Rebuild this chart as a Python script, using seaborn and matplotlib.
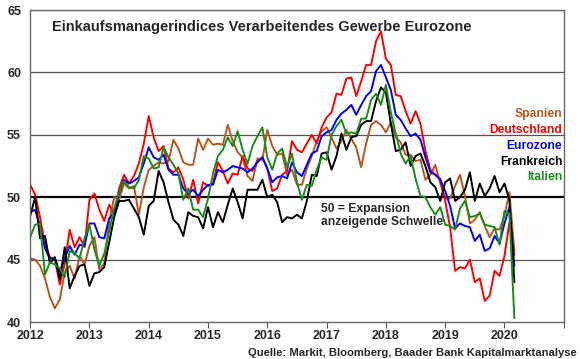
import numpy as np
import pandas as pd
import matplotlib
matplotlib.use("Agg")
import matplotlib.pyplot as plt
import seaborn as sns

# --- data: monthly manufacturing PMI, Jan 2012 - Mar 2020 ---
spanien = [45.1, 45.0, 44.5, 43.5, 42.0, 41.1, 41.8, 44.0, 44.5, 43.5, 45.3, 44.6,
           46.1, 46.8, 44.2, 44.7, 48.1, 50.0, 49.8, 51.1, 50.7, 50.9, 48.6, 50.8,
           52.2, 52.5, 52.8, 52.7, 52.9, 54.6, 53.9, 52.8, 52.6, 52.6, 54.7, 53.8,
           54.7, 54.2, 54.3, 54.2, 55.8, 54.5, 53.6, 53.2, 51.7, 51.3, 53.1, 53.0,
           55.4, 54.1, 53.4, 53.5, 51.8, 52.2, 51.0, 51.0, 52.3, 53.3, 54.5, 55.3,
           55.6, 54.8, 53.9, 54.5, 55.4, 54.7, 54.0, 52.4, 54.3, 55.8, 56.1, 55.8,
           55.2, 56.0, 54.8, 54.4, 53.4, 53.4, 52.9, 53.0, 51.4, 51.8, 52.6, 51.1,
           49.9, 49.9, 50.9, 51.8, 50.1, 47.9, 48.2, 48.8, 47.7, 46.8, 47.5, 47.4,
           48.5, 50.4, 45.7]
deutschland = [51.0, 50.2, 48.4, 46.2, 45.2, 45.0, 43.0, 44.7, 47.4, 46.0, 46.8, 46.0,
               49.8, 50.3, 49.0, 48.1, 49.4, 48.6, 50.7, 51.8, 51.1, 51.7, 52.7, 54.3,
               56.5, 54.8, 53.7, 54.1, 52.3, 52.0, 52.4, 51.4, 49.9, 51.4, 49.5, 51.2,
               50.9, 51.1, 52.8, 52.1, 51.1, 51.9, 51.8, 53.3, 52.3, 52.1, 52.9, 53.2,
               52.3, 50.5, 50.7, 51.8, 52.1, 54.5, 53.8, 53.6, 54.3, 55.0, 54.3, 55.6,
               56.4, 56.8, 58.3, 58.2, 59.5, 59.6, 58.1, 59.3, 60.6, 60.6, 62.5, 63.3,
               61.1, 60.6, 58.2, 58.1, 56.9, 55.9, 56.9, 55.9, 53.7, 52.2, 51.8, 51.5,
               49.7, 47.6, 44.1, 44.4, 44.3, 45.0, 43.2, 43.5, 41.7, 42.1, 44.1, 43.7,
               45.3, 48.0, 45.4]
eurozone = [48.8, 49.0, 47.7, 45.9, 45.1, 45.1, 44.0, 45.1, 46.1, 45.4, 46.2, 46.1,
            47.9, 47.9, 46.8, 46.7, 48.3, 48.8, 50.3, 51.4, 51.1, 51.3, 51.6, 52.7,
            54.0, 53.2, 53.0, 53.4, 52.2, 51.8, 51.8, 50.7, 50.3, 50.6, 50.1, 50.6,
            51.0, 51.0, 52.2, 52.0, 52.2, 52.5, 52.4, 52.3, 52.0, 52.3, 52.8, 53.2,
            52.3, 51.2, 51.6, 51.7, 51.5, 52.8, 52.0, 51.7, 52.6, 53.5, 53.7, 54.9,
            55.2, 55.4, 56.2, 56.7, 57.0, 57.4, 56.6, 57.4, 58.1, 58.5, 60.1, 60.6,
            59.6, 58.6, 56.6, 56.2, 55.5, 54.9, 55.1, 54.6, 53.2, 52.0, 51.8, 51.4,
            50.5, 49.3, 47.5, 47.9, 47.7, 47.6, 46.5, 47.0, 45.7, 45.9, 46.9, 46.3,
            47.9, 49.2, 44.5]
frankreich = [48.5, 50.0, 46.7, 46.9, 44.7, 45.2, 43.4, 46.0, 42.7, 43.7, 44.5, 44.6,
              42.9, 43.9, 44.0, 44.4, 46.4, 48.4, 49.7, 49.7, 49.8, 49.1, 48.4, 47.0,
              49.3, 49.7, 52.1, 51.2, 49.6, 48.2, 47.8, 46.9, 48.8, 48.5, 48.4, 47.5,
              49.2, 47.6, 48.8, 48.0, 49.4, 50.7, 49.6, 48.3, 50.6, 50.6, 50.6, 51.4,
              50.0, 50.2, 49.6, 48.0, 48.4, 48.3, 48.6, 48.3, 49.7, 51.8, 51.7, 53.5,
              53.6, 52.2, 53.3, 55.1, 53.8, 54.8, 54.9, 55.8, 56.1, 56.1, 57.7, 58.8,
              58.4, 55.9, 53.7, 53.8, 54.4, 52.5, 53.3, 53.5, 52.5, 51.2, 50.8, 49.7,
              51.2, 51.5, 49.7, 50.0, 50.6, 52.0, 49.7, 51.1, 50.1, 50.7, 51.7, 50.4,
              51.1, 49.8, 43.2]
italien = [46.8, 47.8, 47.9, 43.8, 44.8, 44.6, 44.3, 43.6, 45.7, 45.5, 45.1, 46.7,
           47.8, 45.8, 44.5, 45.5, 47.3, 49.1, 50.4, 51.3, 50.8, 50.7, 51.4, 53.3,
           53.1, 52.3, 52.4, 54.0, 53.2, 52.6, 51.9, 49.8, 50.7, 49.0, 49.0, 48.4,
           49.9, 51.9, 53.3, 53.8, 54.8, 54.1, 55.3, 53.8, 52.7, 54.1, 54.9, 55.6,
           53.2, 52.2, 53.5, 53.9, 52.4, 53.5, 51.2, 49.8, 51.0, 50.9, 52.2, 53.2,
           53.0, 55.0, 55.7, 56.2, 55.1, 55.2, 55.1, 56.3, 56.3, 57.8, 58.3, 57.4,
           59.0, 56.8, 55.1, 53.5, 52.7, 53.3, 51.5, 50.1, 50.0, 49.2, 48.6, 49.2,
           47.8, 47.7, 47.4, 49.1, 49.7, 48.4, 48.5, 48.7, 47.8, 47.7, 47.6, 46.2,
           48.9, 48.7, 40.3]

names = ["Spanien", "Deutschland", "Eurozone", "Frankreich", "Italien"]
colors = ["#B5561F", "#FF0000", "#0000FF", "#000000", "#1A8C1A"]
year_ticks = list(range(2012, 2022))
year_labels = [str(y) for y in range(2012, 2021)] + [""]

# monthly time axis as fractional years, Jan 2012 = 2012.0
n = len(eurozone)
t = 2012 + np.arange(n) / 12.0
frames = []
for name, vals in zip(names, [spanien, deutschland, eurozone, frankreich, italien]):
    frames.append(pd.DataFrame({"t": t, "pmi": vals, "land": name}))
df = pd.concat(frames, ignore_index=True)

# --- plot ---
sns.set_style("white")
plt.rcParams["font.family"] = ["Liberation Sans", "DejaVu Sans"]

fig = plt.figure(figsize=(5.8, 3.59), dpi=100)
ax = fig.add_axes([0.052, 0.103, 0.92, 0.869])

for y in [45, 55, 60, 65]:
    ax.axhline(y, color="#555555", lw=0.9, zorder=0)
ax.axhline(50, color="black", lw=1.6, zorder=0)

sns.lineplot(data=df, x="t", y="pmi", hue="land", hue_order=names,
             palette=dict(zip(names, colors)), lw=1.4, legend=False, ax=ax)

ax.set_xlim(2012, 2021)
ax.set_ylim(40, 65)
ax.set_xticks(year_ticks)
ax.set_xticklabels(year_labels)
ax.set_yticks([40, 45, 50, 55, 60, 65])
ax.set_xlabel("")
ax.set_ylabel("")
ax.tick_params(axis="both", labelsize=9, pad=3)
ax.tick_params(axis="x", bottom=True, length=4, color="#555555", pad=2)
for lab in ax.get_xticklabels() + ax.get_yticklabels():
    lab.set_fontweight("bold")
for s in ax.spines.values():
    s.set_color("#666666")
    s.set_linewidth(1.0)

ax.text(0.04, 0.968, "Einkaufsmanagerindices Verarbeitendes Gewerbe Eurozone",
        transform=ax.transAxes, ha="left", va="top", fontsize=10.5, fontweight="bold")

# series labels on the right edge instead of a legend
label_y = [56.7, 55.4, 54.1, 52.8, 51.6]
for name, c, y in zip(names, colors, label_y):
    ax.text(0.997, y, name, transform=ax.get_yaxis_transform(), ha="right",
            va="center", fontsize=8.7, fontweight="bold", color=c)

ax.text(2016.9, 49.5, "50 = Expansion\nanzeigende Schwelle", ha="left", va="top",
        fontsize=8.7, fontweight="bold", linespacing=1.05)

fig.text(0.995, 0.004, "Quelle: Markit, Bloomberg, Baader Bank Kapitalmarktanalyse",
         ha="right", va="bottom", fontsize=8.1, fontweight="bold")

fig.savefig("out.png", dpi=100)
